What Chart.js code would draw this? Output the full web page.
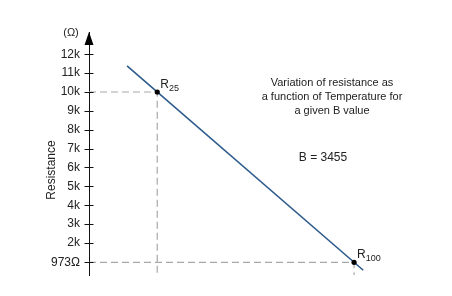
<!DOCTYPE html>
<html>
<head>
<meta charset="utf-8">
<script src="https://cdn.jsdelivr.net/npm/chart.js@4"></script>
<style>
  html, body { margin: 0; padding: 0; background: #fff; }
  #wrap { width: 452px; height: 296px; }
</style>
</head>
<body>
<div id="wrap"><canvas id="c" width="452" height="296"></canvas></div>
<script>
// Thermistor resistance vs temperature (B = 3455)
const curveTemps = [13.5, 103.5];
const curveOhms = [11384, 552];
const refTemps = [25, 100];
const refOhms = [10000, 973];
const refNames = ['25', '100'];
const tickValues = [973, 2000, 3000, 4000, 5000, 6000, 7000, 8000, 9000, 10000, 11000, 12000];
const tickLabels = ['973Ω', '2k', '3k', '4k', '5k', '6k', '7k', '8k', '9k', '10k', '11k', '12k'];

const X_MIN = -1, X_MAX = 133.5, Y_MIN = 300, Y_MAX = 13180;
const FONT = '"Liberation Sans", Arial, sans-serif';

const guideSets = [];
refTemps.forEach((t, i) => {
  guideSets.push({
    data: [{x: X_MIN, y: refOhms[i]}, {x: t, y: refOhms[i]}, {x: t, y: Y_MIN}],
    borderColor: '#a8a8a8', borderWidth: 1.2, borderDash: [7, 4],
    pointRadius: 0, fill: false, order: 3
  });
});

const overlay = {
  id: 'overlay',
  afterDraw(chart) {
    const ctx = chart.ctx;
    const ys = chart.scales.y, xs = chart.scales.x;
    const ax = ys.right;
    ctx.save();
    // cross ticks on the axis
    ctx.strokeStyle = '#111';
    ctx.lineWidth = 1;
    tickValues.forEach(v => {
      const py = Math.round(ys.getPixelForValue(v)) + 0.5;
      ctx.beginPath();
      ctx.moveTo(ax - 4.5, py);
      ctx.lineTo(ax + 4.5, py);
      ctx.stroke();
    });
    // arrow head
    const top = chart.chartArea.top;
    ctx.fillStyle = '#000';
    ctx.beginPath();
    ctx.moveTo(ax, top);
    ctx.lineTo(ax - 4.5, top + 13);
    ctx.lineTo(ax + 4.5, top + 13);
    ctx.closePath();
    ctx.fill();
    // unit label
    ctx.fillStyle = '#222';
    ctx.font = '11px ' + FONT;
    ctx.textAlign = 'center';
    ctx.textBaseline = 'middle';
    ctx.fillText('(Ω)', ax - 18, top + 1);
    // axis title
    ctx.save();
    ctx.translate(52, 170);
    ctx.rotate(-Math.PI / 2);
    ctx.font = '12px ' + FONT;
    ctx.fillText('Resistance', 0, 0);
    ctx.restore();
    // reference point names with subscripts
    refTemps.forEach((t, i) => {
      const px = xs.getPixelForValue(t), py = ys.getPixelForValue(refOhms[i]);
      ctx.textAlign = 'left';
      ctx.textBaseline = 'alphabetic';
      ctx.font = '12px ' + FONT;
      ctx.fillText('R', px + 3, py - 4);
      const w = ctx.measureText('R').width;
      ctx.font = '9px ' + FONT;
      ctx.fillText(refNames[i], px + 3 + w, py - 1);
    });
    // description
    ctx.font = '11px ' + FONT;
    ctx.textAlign = 'center';
    ctx.textBaseline = 'middle';
    ctx.fillText('Variation of resistance as', 332, 83);
    ctx.fillText('a function of Temperature for', 332, 97);
    ctx.fillText('a given B value', 332, 111);
    ctx.font = '12px ' + FONT;
    ctx.fillText('B = 3455', 323, 158);
    ctx.restore();
  }
};

new Chart(document.getElementById('c'), {
  type: 'line',
  data: {
    datasets: [
      {
        data: curveTemps.map((t, i) => ({x: t, y: curveOhms[i]})),
        borderColor: '#2d5b8c', borderWidth: 1.6, pointRadius: 0, fill: false, order: 2
      },
      {
        data: refTemps.map((t, i) => ({x: t, y: refOhms[i]})),
        showLine: false, pointRadius: 2.6, pointBackgroundColor: '#000',
        pointBorderColor: '#000', pointBorderWidth: 0, order: 1
      },
      ...guideSets
    ]
  },
  options: {
    responsive: false,
    animation: false,
    layout: { padding: { top: 32, bottom: 21, left: 0, right: 10 } },
    plugins: { legend: { display: false }, tooltip: { enabled: false } },
    scales: {
      x: { type: 'linear', min: X_MIN, max: X_MAX, display: false },
      y: {
        type: 'linear', min: Y_MIN, max: Y_MAX,
        afterFit(scale) { scale.width = 89; },
        afterBuildTicks(scale) { scale.ticks = tickValues.map(v => ({value: v})); },
        grid: { display: false },
        border: { display: true, color: '#111', width: 1 },
        ticks: {
          padding: 1,
          color: '#222',
          font: { family: FONT, size: 12 },
          callback(v) { const i = tickValues.indexOf(v); return i >= 0 ? tickLabels[i] : ''; }
        }
      }
    }
  },
  plugins: [overlay]
});
</script>
</body>
</html>
